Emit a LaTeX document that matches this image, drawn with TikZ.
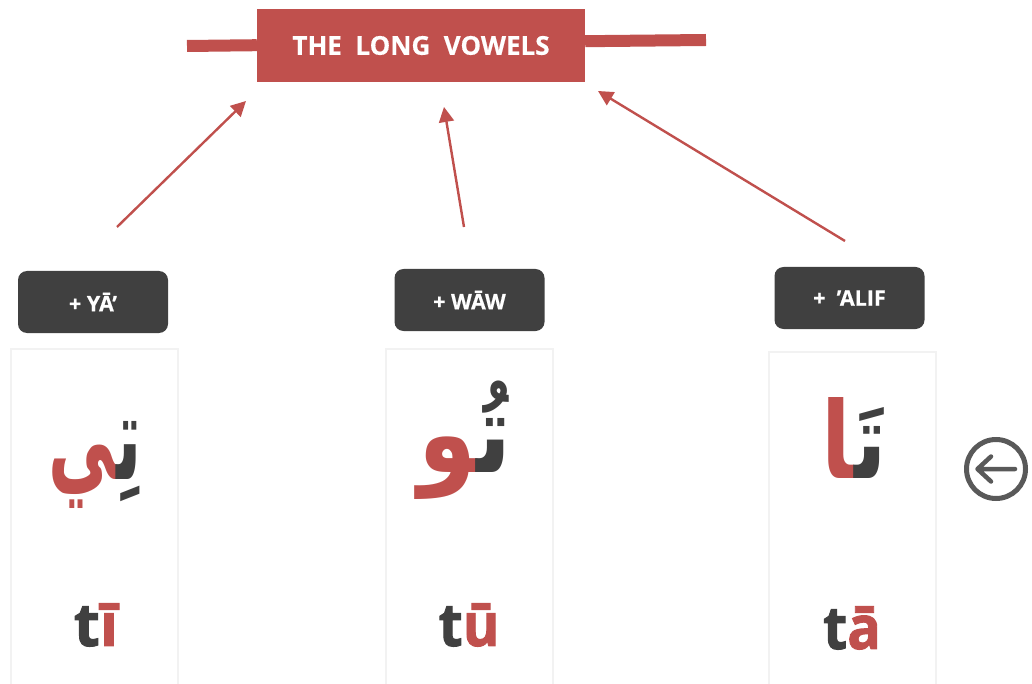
\documentclass[tikz,border=0pt]{standalone}
\usepackage{fontspec}
\usetikzlibrary{arrows.meta}
\setmainfont{Open Sans}
\newfontfamily\arabicfont[Script=Arabic]{DejaVu Sans}
\TeXXeTstate=1
\definecolor{rd}{HTML}{C0504D}
\definecolor{dk}{HTML}{404040}
\definecolor{pn}{HTML}{F2F2F2}
\definecolor{ic}{HTML}{595959}
\newcommand{\zj}{^^^^200d}
\newcommand{\twotone}[2]{{\color{rd}\beginR\zj #2\endR}{\color{dk}\beginR #1\zj\endR}}
\tikzset{
 title/.style={fill=rd,minimum width=328,minimum height=73,inner sep=0,text=white,font=\fontsize{26}{26}\selectfont\bfseries\addfontfeature{FakeBold=0.4},anchor=center},
 tag/.style={fill=dk,rounded corners=9,minimum width=150,minimum height=62,inner sep=0,text=white,font=\fontsize{21.5}{21.5}\selectfont\bfseries\addfontfeature{FakeBold=0.5}},
 panel/.style={draw=pn,line width=2,minimum width=167,inner sep=0},
 bar/.style={draw=rd,line width=12},
 conn/.style={draw=rd,line width=2.4,-{Triangle[length=15,width=15]}},
 arab/.style={font=\arabicfont\bfseries\fontsize{82}{82}\selectfont,inner sep=0,text=dk,transform shape},
 lat/.style={font=\fontsize{60}{60}\selectfont\bfseries\addfontfeature{FakeBold=1.6},inner sep=0,text=dk,transform shape},
}
\begin{document}
\begin{tikzpicture}[x=1pt,y=-1pt]
\useasboundingbox (0,0) rectangle (1032,684);
\coordinate (bl) at (187,46);
\coordinate (br) at (706,40);
\node[title] (t) at (421,45.5) {\raisebox{-2pt}{THE\ \ LONG\ \ VOWELS}};
\draw[bar] (bl) -- (t.west |- 0,45.2);
\draw[bar] (t.east |- 0,41.2) -- (br);
\node[tag] (ty) at (93,302) {\raisebox{-1pt}{+ YĀ’}};
\node[tag] (tw) at (469.5,300) {\raisebox{-2pt}{+ WĀW}};
\node[tag] (ta) at (849.5,298) {\raisebox{-2pt}{+\ \ ’ALIF}};
\node[panel,minimum height=336] (py) at (94,517) {};
\node[panel,minimum height=336] (pw) at (469.5,517) {};
\node[panel,minimum height=333] (pa) at (852.5,518.5) {};
\coordinate (s1) at (117,227); \coordinate (e1) at (246,101);
\coordinate (s2) at (464,227); \coordinate (e2) at (444,107);
\coordinate (s3) at (845,241); \coordinate (e3) at (598,91);
\draw[conn] (s1) -- (e1);
\draw[conn] (s2) -- (e2);
\draw[conn] (s3) -- (e3);
\node[arab,xscale=.82,yscale=1.45] (ay) at (95,465) {\twotone{تِ}{ي}};
\node[arab,xscale=1.14,yscale=1.35] (aw) at (465,440) {\twotone{تُ}{و}};
\node[arab,xscale=1.05,yscale=1.3] (aa) at (854,438) {\twotone{تَ}{ا}};
\node[lat] (ly) at (96,625) {t{\color{rd}ī}};
\node[lat,xscale=.93] (lw) at (469,625) {t{\color{rd}ū}};
\node[lat,xscale=.93] (la) at (852,628) {t{\color{rd}ā}};
\node[draw=ic,circle,line width=5,minimum size=59,inner sep=0] (c) at (996,469) {};
\coordinate (a1) at (1015,469); \coordinate (a2) at (977.5,469);
\coordinate (a3) at (991,456.5); \coordinate (a4) at (991,481.5);
\draw[ic,line width=4.5,line cap=round,line join=round] (a1) -- (a2) (a3) -- (a2) -- (a4);
\end{tikzpicture}
\end{document}
